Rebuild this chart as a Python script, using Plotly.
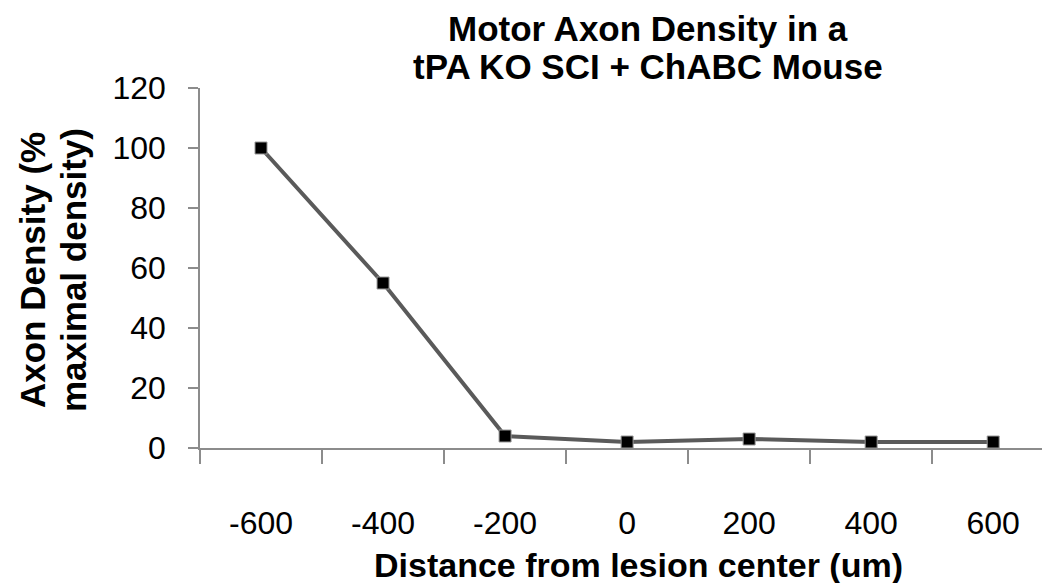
import plotly.graph_objects as go

categories = ["-600", "-400", "-200", "0", "200", "400", "600"]
density = [100, 55, 4, 2, 3, 2, 2]
y_ticks = [0, 20, 40, 60, 80, 100, 120]

title_lines = ["Motor Axon Density in a", "tPA KO SCI + ChABC Mouse"]
x_title = "Distance from lesion center (um)"
y_title_lines = ["Axon Density (%", "maximal density)"]

FONT = "Liberation Sans, Arial, sans-serif"

fig = go.Figure()
fig.add_trace(go.Scatter(
    x=categories, y=density, mode="lines+markers",
    line=dict(color="#5a5a5a", width=4),
    marker=dict(symbol="square", size=12, color="black",
                line=dict(color="#9a9a9a", width=1)),
    showlegend=False,
))

PW, PH, L, T = 842, 360, 200, 88


def px_x(x):
    return (x - L) / PW


def px_y(y):
    return (T + PH - y) / PH


annotations = []
for yc, line in zip([29, 66], title_lines):
    annotations.append(dict(text="<b>" + line + "</b>", xref="paper", yref="paper",
                            x=px_x(648), y=px_y(yc), xanchor="center", yanchor="middle",
                            showarrow=False, font=dict(size=35, family=FONT)))
annotations.append(dict(text="<b>" + x_title + "</b>", xref="paper", yref="paper",
                        x=px_x(638), y=px_y(565), xanchor="center", yanchor="middle",
                        showarrow=False, font=dict(size=34, family=FONT)))
for xc, line in zip([32, 73], y_title_lines):
    annotations.append(dict(text="<b>" + line + "</b>", xref="paper", yref="paper",
                            x=px_x(xc), y=px_y(270), xanchor="center", yanchor="middle",
                            textangle=-90, showarrow=False, font=dict(size=35, family=FONT)))

fig.update_layout(
    width=1042, height=583,
    margin=dict(l=200, r=0, t=88, b=135),
    paper_bgcolor="white", plot_bgcolor="white",
    font=dict(family=FONT, color="black"),
    xaxis=dict(
        type="category", range=[-0.5, 6.4],
        showline=True, linecolor="#8c8c8c", linewidth=1.5,
        ticks="outside", tickson="boundaries", ticklen=14, tickcolor="#8c8c8c", tickwidth=1.5,
        tickfont=dict(size=32, family=FONT), ticklabelstandoff=46,
        showgrid=False, zeroline=False,
    ),
    yaxis=dict(
        range=[0, 120], tickvals=y_ticks,
        showline=True, linecolor="#8c8c8c", linewidth=1.5,
        ticks="outside", ticklen=10, tickcolor="#8c8c8c", tickwidth=1.5,
        tickfont=dict(size=32, family=FONT), ticklabelstandoff=16,
        showgrid=False, zeroline=False,
    ),
    annotations=annotations,
)

fig.write_html("out.html")
